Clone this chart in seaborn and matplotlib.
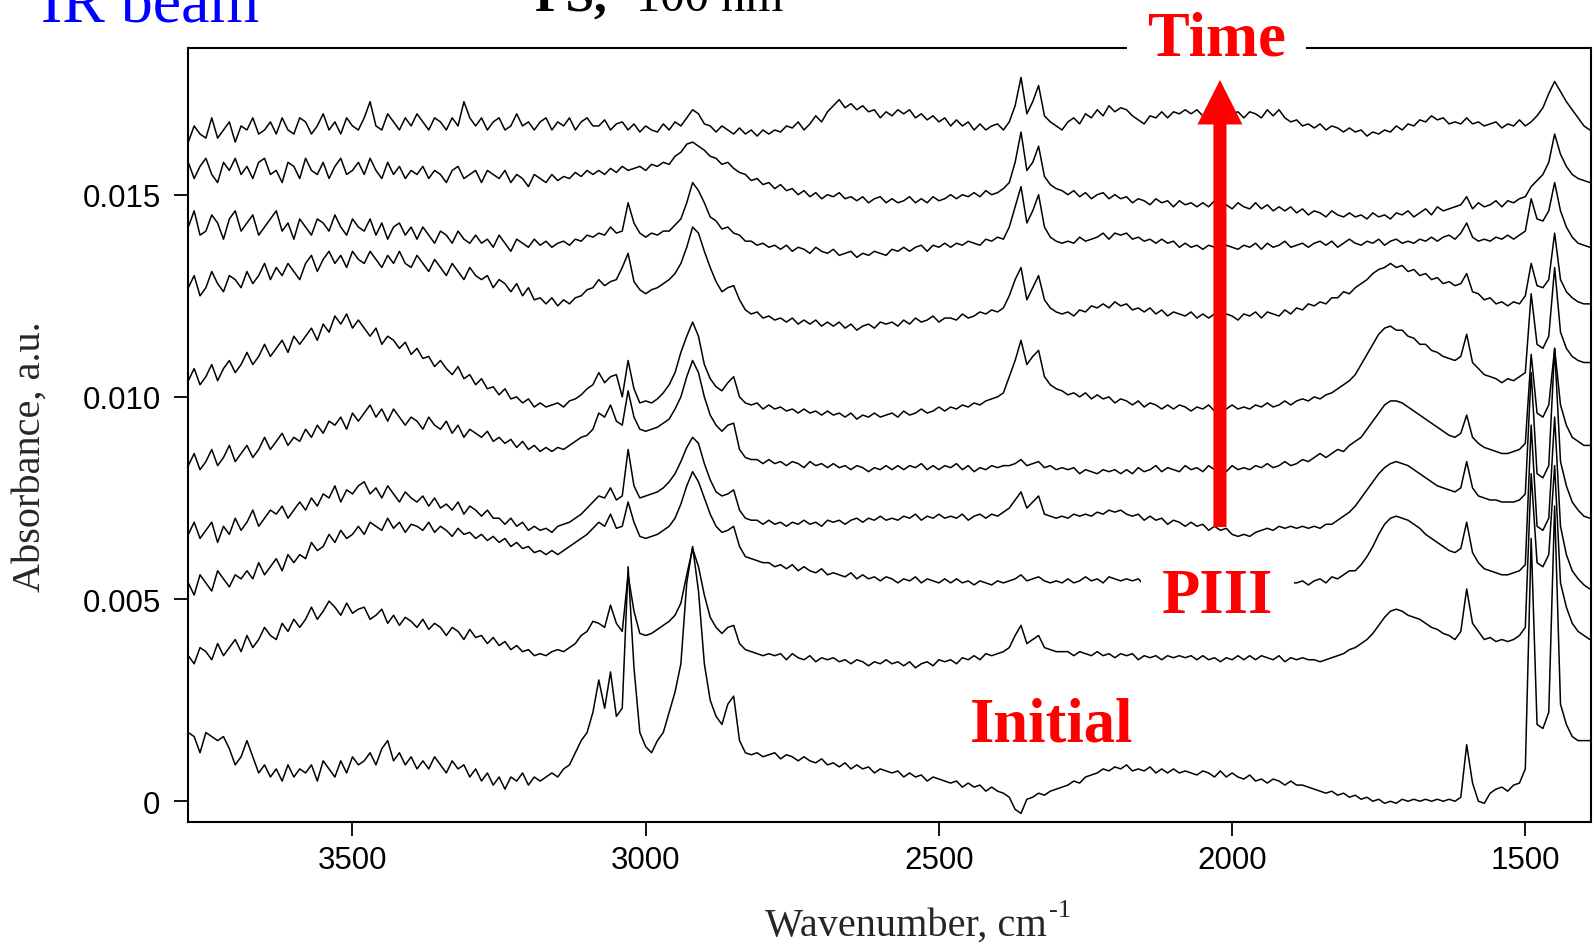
import numpy as np
import pandas as pd
import matplotlib
matplotlib.use("Agg")
import matplotlib.pyplot as plt
import seaborn as sns

sns.set_theme(style="ticks")
plt.rcParams["font.family"] = ["Liberation Sans", "DejaVu Sans"]

# ---------------- data (absorbance, units of 1e-3) ----------------
# wavenumber grid, cm-1, 3780 -> 1390 in 10 cm-1 steps (240 points)
wavenumber = np.arange(3780, 1389, -10)

abs_initial = [
    1.7, 1.6, 1.2, 1.7, 1.6, 1.5, 1.6, 1.3, 0.9, 1.1,
    1.5, 1.1, 0.7, 0.9, 0.6, 0.8, 0.5, 0.9, 0.6, 0.8,
    0.7, 0.9, 0.5, 1.0, 0.8, 0.6, 1.0, 0.7, 1.1, 0.9,
    1.0, 1.2, 0.9, 1.3, 1.5, 1.0, 1.2, 0.9, 1.1, 0.8,
    1.0, 0.8, 1.1, 0.9, 0.7, 1.0, 0.8, 0.9, 0.6, 0.8,
    0.5, 0.7, 0.4, 0.6, 0.3, 0.6, 0.5, 0.7, 0.4, 0.6,
    0.5, 0.6, 0.7, 0.6, 0.8, 0.9, 1.2, 1.5, 1.7, 2.2,
    3.0, 2.3, 3.2, 2.1, 2.3, 5.8, 3.3, 1.7, 1.35, 1.2,
    1.5, 1.7, 2.2, 2.7, 3.4, 5.4, 6.3, 5.2, 3.4, 2.5,
    2.1, 1.9, 2.4, 2.6, 1.5, 1.2, 1.15, 1.2, 1.1, 1.15,
    1.2, 1.05, 1.15, 1.1, 1.0, 1.1, 1.0, 0.95, 1.05, 0.9,
    0.95, 0.85, 0.95, 0.8, 0.9, 0.8, 0.85, 0.7, 0.8, 0.75,
    0.7, 0.75, 0.6, 0.7, 0.6, 0.65, 0.5, 0.6, 0.55, 0.5,
    0.45, 0.5, 0.35, 0.45, 0.35, 0.4, 0.25, 0.35, 0.25, 0.2,
    0.1, -0.2, -0.3, 0.05, 0.1, 0.2, 0.15, 0.25, 0.3, 0.35,
    0.4, 0.5, 0.45, 0.6, 0.65, 0.7, 0.8, 0.75, 0.85, 0.8,
    0.9, 0.75, 0.8, 0.75, 0.85, 0.7, 0.8, 0.7, 0.8, 0.7,
    0.75, 0.7, 0.65, 0.75, 0.7, 0.6, 0.75, 0.6, 0.7, 0.6,
    0.55, 0.65, 0.5, 0.55, 0.45, 0.55, 0.5, 0.4, 0.5, 0.4,
    0.4, 0.35, 0.3, 0.25, 0.2, 0.25, 0.15, 0.2, 0.1, 0.15,
    0.05, 0.1, 0.0, 0.05, -0.05, 0.0, -0.05, 0.05, 0.0, 0.05,
    0.0, 0.05, 0.0, 0.05, 0.0, 0.05, 0.0, 0.1, 1.4, 0.45,
    0.0, -0.05, 0.2, 0.3, 0.35, 0.25, 0.4, 0.45, 0.8, 6.5,
    1.9, 1.8, 2.2, 7.3, 2.4, 1.9, 1.6, 1.5, 1.5, 1.5,
]
abs_t1 = [
    3.6, 3.4, 3.8, 3.7, 3.5, 3.9, 3.6, 3.8, 4.0, 3.7,
    4.1, 3.8, 4.0, 4.3, 4.1, 4.0, 4.4, 4.2, 4.5, 4.3,
    4.5, 4.8, 4.5, 4.7, 4.95, 4.8, 4.6, 4.9, 4.65, 4.75,
    4.8, 4.5, 4.6, 4.75, 4.4, 4.6, 4.35, 4.55, 4.45, 4.3,
    4.5, 4.25, 4.4, 4.3, 4.1, 4.3, 4.2, 4.0, 4.25, 4.05,
    4.1, 3.9, 4.05, 3.85, 3.95, 3.75, 3.85, 3.7, 3.75, 3.6,
    3.65, 3.6, 3.7, 3.75, 3.7, 3.8, 3.9, 4.1, 4.2, 4.45,
    4.4, 4.3, 4.85, 4.4, 4.2, 5.6, 4.7, 4.15, 4.1, 4.15,
    4.25, 4.35, 4.45, 4.6, 4.9, 5.6, 6.25, 5.8, 5.1, 4.55,
    4.3, 4.15, 4.3, 4.35, 3.9, 3.75, 3.7, 3.65, 3.6, 3.65,
    3.6, 3.65, 3.5, 3.65, 3.55, 3.5, 3.6, 3.45, 3.55, 3.5,
    3.55, 3.45, 3.5, 3.4, 3.5, 3.45, 3.35, 3.45, 3.4, 3.5,
    3.4, 3.45, 3.35, 3.45, 3.3, 3.4, 3.45, 3.35, 3.5, 3.45,
    3.5, 3.4, 3.55, 3.5, 3.6, 3.5, 3.65, 3.6, 3.65, 3.7,
    3.8, 4.1, 4.35, 3.9, 4.0, 4.1, 3.8, 3.75, 3.7, 3.7,
    3.7, 3.6, 3.7, 3.65, 3.6, 3.7, 3.6, 3.65, 3.55, 3.65,
    3.6, 3.65, 3.5, 3.6, 3.55, 3.6, 3.5, 3.6, 3.55, 3.6,
    3.55, 3.6, 3.5, 3.6, 3.5, 3.55, 3.45, 3.55, 3.5, 3.6,
    3.5, 3.6, 3.5, 3.6, 3.55, 3.5, 3.6, 3.45, 3.55, 3.5,
    3.55, 3.5, 3.5, 3.45, 3.5, 3.55, 3.6, 3.65, 3.75, 3.8,
    3.9, 4.0, 4.15, 4.35, 4.55, 4.7, 4.75, 4.7, 4.6, 4.55,
    4.5, 4.4, 4.3, 4.25, 4.15, 4.1, 4.0, 4.2, 5.25, 4.4,
    4.2, 4.0, 4.05, 3.95, 4.0, 3.95, 4.0, 4.1, 4.3, 8.1,
    5.9, 5.8, 6.1, 8.3, 5.4, 4.8, 4.4, 4.2, 4.1, 4.0,
]
abs_t2 = [
    5.4, 5.1, 5.6, 5.4, 5.2, 5.7, 5.5, 5.3, 5.6, 5.5,
    5.7, 5.5, 5.9, 5.6, 5.8, 6.0, 5.7, 6.1, 5.9, 6.1,
    6.0, 6.4, 6.2, 6.3, 6.6, 6.4, 6.7, 6.5, 6.6, 6.8,
    6.6, 6.9, 6.8, 6.7, 7.0, 6.75, 6.9, 6.65, 6.85, 6.8,
    6.7, 6.9, 6.65, 6.8, 6.7, 6.55, 6.75, 6.6, 6.65, 6.5,
    6.6, 6.45, 6.55, 6.4, 6.5, 6.3, 6.4, 6.25, 6.3, 6.15,
    6.2, 6.1, 6.2, 6.1, 6.2, 6.3, 6.4, 6.5, 6.6, 6.75,
    6.9, 6.8, 7.1, 6.75, 6.8, 7.4, 6.9, 6.55, 6.5, 6.55,
    6.6, 6.7, 6.8, 7.0, 7.35, 7.8, 8.15, 7.9, 7.5, 7.1,
    6.8, 6.65, 6.7, 6.8, 6.3, 6.05, 6.0, 5.95, 5.9, 5.9,
    5.8, 5.85, 5.75, 5.85, 5.7, 5.8, 5.7, 5.65, 5.75, 5.6,
    5.65, 5.6, 5.55, 5.65, 5.5, 5.6, 5.5, 5.55, 5.45, 5.55,
    5.5, 5.4, 5.5, 5.45, 5.55, 5.4, 5.5, 5.45, 5.4, 5.5,
    5.4, 5.5, 5.4, 5.45, 5.35, 5.45, 5.4, 5.35, 5.45, 5.4,
    5.45, 5.5, 5.6, 5.45, 5.5, 5.55, 5.45, 5.4, 5.45, 5.4,
    5.5, 5.4, 5.45, 5.55, 5.45, 5.5, 5.4, 5.55, 5.5, 5.45,
    5.5, 5.45, 5.5, 5.35, 5.4, 5.35, 5.45, 5.3, 5.4, 5.35,
    5.4, 5.35, 5.4, 5.35, 5.4, 5.35, 5.4, 5.35, 5.4, 5.35,
    5.4, 5.35, 5.4, 5.35, 5.4, 5.35, 5.4, 5.35, 5.4, 5.4,
    5.45, 5.35, 5.45, 5.5, 5.4, 5.55, 5.5, 5.6, 5.7, 5.7,
    5.85, 6.05, 6.3, 6.6, 6.85, 7.0, 7.05, 7.0, 6.95, 6.85,
    6.75, 6.6, 6.5, 6.4, 6.3, 6.2, 6.15, 6.25, 6.9, 6.15,
    5.9, 5.75, 5.7, 5.65, 5.6, 5.6, 5.65, 5.7, 5.85, 9.3,
    6.8, 6.7, 7.0, 9.5, 6.8, 6.1, 5.7, 5.5, 5.35, 5.25,
]
abs_t3 = [
    6.6, 6.9, 6.5, 6.7, 6.9, 6.4, 6.8, 6.6, 7.0, 6.7,
    6.9, 7.2, 6.8, 7.0, 7.2, 7.1, 7.3, 7.0, 7.2, 7.4,
    7.2, 7.5, 7.3, 7.6, 7.5, 7.8, 7.4, 7.7, 7.6, 7.8,
    7.9, 7.6, 7.75, 7.5, 7.8, 7.6, 7.4, 7.65, 7.5, 7.4,
    7.55, 7.3, 7.5, 7.25, 7.35, 7.2, 7.4, 7.1, 7.3, 7.2,
    7.05, 7.2, 7.0, 7.0, 6.85, 7.0, 6.8, 6.9, 6.7, 6.8,
    6.7, 6.75, 6.65, 6.8, 6.85, 6.9, 7.0, 7.1, 7.25, 7.4,
    7.55, 7.5, 7.75, 7.45, 7.55, 8.7, 7.8, 7.5, 7.55, 7.6,
    7.65, 7.75, 7.9, 8.1, 8.4, 8.75, 9.0, 8.85, 8.35, 7.95,
    7.65, 7.55, 7.6, 7.7, 7.2, 7.0, 6.95, 6.95, 6.85, 6.95,
    6.85, 6.9, 6.8, 6.9, 6.85, 6.95, 6.85, 6.9, 6.8, 6.95,
    6.9, 6.95, 6.85, 6.95, 7.0, 6.9, 7.0, 6.95, 7.05, 6.95,
    7.0, 6.95, 7.05, 7.0, 7.1, 6.95, 7.05, 7.0, 7.1, 7.0,
    7.05, 7.0, 7.1, 6.95, 7.05, 7.1, 7.0, 7.1, 7.05, 7.15,
    7.25, 7.45, 7.65, 7.25, 7.4, 7.55, 7.1, 7.05, 7.0, 7.05,
    7.0, 7.1, 7.05, 7.1, 7.05, 7.15, 7.1, 7.2, 7.15, 7.2,
    7.1, 7.05, 7.1, 6.95, 7.05, 6.95, 7.0, 6.85, 6.95, 6.9,
    6.8, 6.9, 6.8, 6.85, 6.7, 6.8, 6.7, 6.75, 6.6, 6.55,
    6.6, 6.55, 6.65, 6.7, 6.75, 6.7, 6.8, 6.75, 6.8, 6.75,
    6.8, 6.75, 6.8, 6.75, 6.85, 6.85, 6.95, 7.05, 7.15, 7.3,
    7.5, 7.7, 7.9, 8.1, 8.25, 8.35, 8.4, 8.35, 8.3, 8.2,
    8.1, 8.0, 7.9, 7.8, 7.75, 7.7, 7.65, 7.75, 8.4, 7.75,
    7.55, 7.5, 7.45, 7.45, 7.4, 7.4, 7.4, 7.45, 7.6, 10.6,
    8.1, 8.0, 8.3, 11.2, 8.4, 7.8, 7.4, 7.2, 7.05, 7.0,
]
abs_t4 = [
    8.3, 8.6, 8.2, 8.4, 8.7, 8.3, 8.5, 8.8, 8.4, 8.6,
    8.8, 8.5, 8.7, 9.0, 8.7, 8.9, 9.1, 8.8, 9.0, 8.9,
    9.2, 9.0, 9.3, 9.1, 9.4, 9.3, 9.5, 9.2, 9.6, 9.4,
    9.6, 9.8, 9.5, 9.7, 9.4, 9.7, 9.5, 9.3, 9.5, 9.4,
    9.2, 9.5, 9.3, 9.2, 9.4, 9.1, 9.3, 9.0, 9.2, 9.1,
    9.0, 9.15, 8.9, 9.0, 8.85, 8.95, 8.75, 8.9, 8.7, 8.8,
    8.65, 8.75, 8.65, 8.75, 8.7, 8.8, 8.9, 9.0, 9.05, 9.2,
    9.6, 9.5, 9.8, 9.4, 9.3, 10.15, 9.5, 9.2, 9.15, 9.2,
    9.25, 9.35, 9.45, 9.7, 10.0, 10.5, 10.9, 10.6, 10.0, 9.55,
    9.3, 9.15, 9.3, 9.35, 8.7, 8.5, 8.45, 8.45, 8.35, 8.45,
    8.35, 8.4, 8.3, 8.4, 8.35, 8.25, 8.4, 8.3, 8.35, 8.25,
    8.35, 8.25, 8.3, 8.2, 8.3, 8.25, 8.15, 8.25, 8.2, 8.3,
    8.2, 8.3, 8.2, 8.3, 8.25, 8.35, 8.2, 8.3, 8.2, 8.3,
    8.25, 8.35, 8.2, 8.3, 8.15, 8.25, 8.2, 8.3, 8.25, 8.3,
    8.3, 8.35, 8.45, 8.3, 8.35, 8.4, 8.25, 8.3, 8.2, 8.25,
    8.2, 8.25, 8.1, 8.2, 8.15, 8.1, 8.2, 8.15, 8.2, 8.1,
    8.2, 8.1, 8.25, 8.15, 8.2, 8.3, 8.15, 8.25, 8.2, 8.15,
    8.3, 8.2, 8.25, 8.15, 8.3, 8.2, 8.25, 8.15, 8.3, 8.2,
    8.25, 8.2, 8.3, 8.25, 8.35, 8.25, 8.3, 8.4, 8.3, 8.35,
    8.45, 8.4, 8.5, 8.6, 8.5, 8.6, 8.7, 8.65, 8.8, 8.9,
    9.0, 9.2, 9.4, 9.6, 9.8, 9.9, 9.9, 9.85, 9.75, 9.65,
    9.55, 9.45, 9.35, 9.25, 9.15, 9.05, 9.0, 9.1, 9.55, 9.0,
    8.85, 8.75, 8.7, 8.65, 8.6, 8.6, 8.65, 8.7, 8.85, 11.05,
    9.6, 9.5, 9.8, 11.2, 9.8, 9.3, 9.0, 8.9, 8.8, 8.8,
]
abs_t5 = [
    10.4, 10.7, 10.3, 10.5, 10.8, 10.4, 10.7, 10.9, 10.6, 10.8,
    11.1, 10.8, 11.0, 11.3, 11.0, 11.2, 11.4, 11.1, 11.5, 11.3,
    11.5, 11.7, 11.4, 11.8, 11.6, 12.0, 11.8, 12.05, 11.7, 11.9,
    11.7, 11.5, 11.7, 11.3, 11.5, 11.4, 11.2, 11.35, 11.05, 11.2,
    10.95, 11.0, 10.75, 10.9, 10.7, 10.55, 10.75, 10.45, 10.55, 10.3,
    10.45, 10.2, 10.25, 10.05, 10.2, 9.95, 10.0, 9.85, 9.95, 9.75,
    9.85, 9.75, 9.8, 9.85, 9.75, 9.9, 9.95, 10.05, 10.2, 10.3,
    10.6, 10.35, 10.5, 10.55, 10.0, 10.9, 10.2, 9.85, 9.9, 9.85,
    9.95, 10.1, 10.3, 10.6, 11.1, 11.5, 11.85, 11.5, 10.8, 10.45,
    10.25, 10.15, 10.35, 10.5, 10.0, 9.85, 9.8, 9.85, 9.7, 9.8,
    9.7, 9.75, 9.65, 9.7, 9.6, 9.7, 9.6, 9.65, 9.55, 9.65,
    9.55, 9.6, 9.5, 9.6, 9.45, 9.55, 9.5, 9.6, 9.5, 9.55,
    9.6, 9.5, 9.65, 9.55, 9.6, 9.7, 9.6, 9.65, 9.75, 9.65,
    9.75, 9.7, 9.8, 9.75, 9.85, 9.8, 9.9, 9.95, 10.0, 10.1,
    10.5, 10.9, 11.4, 10.8, 11.0, 11.15, 10.5, 10.3, 10.2, 10.15,
    10.05, 10.1, 10.0, 10.1, 9.95, 10.05, 9.95, 10.0, 9.85, 9.95,
    9.9, 9.8, 9.9, 9.75, 9.85, 9.8, 9.7, 9.8, 9.7, 9.8,
    9.75, 9.65, 9.75, 9.7, 9.8, 9.65, 9.75, 9.7, 9.8, 9.7,
    9.75, 9.7, 9.8, 9.75, 9.85, 9.75, 9.8, 9.9, 9.8, 9.9,
    9.95, 9.9, 10.0, 9.95, 10.05, 10.1, 10.2, 10.3, 10.4, 10.55,
    10.8, 11.05, 11.3, 11.55, 11.7, 11.75, 11.65, 11.65, 11.5, 11.45,
    11.3, 11.3, 11.15, 11.1, 11.0, 10.95, 10.9, 11.0, 11.55, 10.85,
    10.7, 10.55, 10.5, 10.45, 10.35, 10.45, 10.4, 10.5, 10.6, 12.55,
    11.3, 11.2, 11.5, 13.2, 11.6, 11.2, 11.0, 10.9, 10.85, 10.85,
]
abs_t6 = [
    12.7, 13.0, 12.5, 12.7, 13.1, 12.8, 12.6, 13.0, 12.9, 12.7,
    13.1, 12.8, 13.0, 13.3, 12.9, 13.2, 13.0, 13.3, 13.1, 12.9,
    13.3, 13.5, 13.1, 13.4, 13.6, 13.3, 13.5, 13.2, 13.6, 13.4,
    13.3, 13.6, 13.4, 13.2, 13.5, 13.3, 13.6, 13.3, 13.2, 13.5,
    13.3, 13.1, 13.4, 13.2, 13.0, 13.3, 13.1, 12.9, 13.2, 13.0,
    12.9, 13.0, 12.7, 12.9, 12.8, 12.6, 12.8, 12.5, 12.7, 12.4,
    12.45, 12.3, 12.45, 12.25, 12.4, 12.3, 12.45, 12.5, 12.65, 12.7,
    12.9, 12.75, 12.85, 12.9, 13.2, 13.55, 12.85, 12.65, 12.55, 12.65,
    12.7, 12.8, 12.9, 13.05, 13.3, 13.7, 14.2, 14.05, 13.6, 13.2,
    12.85, 12.6, 12.7, 12.75, 12.4, 12.15, 12.05, 12.1, 11.95, 12.0,
    11.9, 11.95, 11.85, 11.95, 11.8, 11.9, 11.8, 11.9, 11.75, 11.85,
    11.75, 11.85, 11.7, 11.8, 11.65, 11.75, 11.8, 11.7, 11.85, 11.8,
    11.85, 11.75, 11.9, 11.8, 11.95, 11.85, 11.9, 12.0, 11.85, 11.95,
    11.95, 11.9, 12.05, 11.95, 12.0, 12.1, 12.05, 12.15, 12.1, 12.2,
    12.5, 12.9, 13.2, 12.4, 12.7, 13.0, 12.4, 12.2, 12.1, 12.05,
    12.1, 12.0, 12.15, 12.1, 12.25, 12.2, 12.3, 12.2, 12.35, 12.25,
    12.3, 12.15, 12.2, 12.1, 12.2, 12.05, 12.15, 12.0, 12.1, 12.05,
    12.0, 12.1, 11.95, 12.05, 11.95, 12.05, 11.9, 12.05, 12.0, 11.9,
    12.05, 12.0, 12.1, 11.95, 12.1, 12.05, 12.0, 12.15, 12.05, 12.2,
    12.15, 12.3, 12.25, 12.35, 12.3, 12.45, 12.45, 12.6, 12.55, 12.7,
    12.8, 12.9, 13.05, 13.15, 13.2, 13.3, 13.2, 13.25, 13.1, 13.15,
    13.0, 13.05, 12.9, 12.95, 12.8, 12.85, 12.75, 12.8, 13.05, 12.6,
    12.55, 12.4, 12.45, 12.3, 12.35, 12.25, 12.35, 12.3, 12.5, 13.3,
    12.75, 12.7, 12.9, 14.05, 12.9, 12.6, 12.45, 12.35, 12.3, 12.3,
]
abs_t7 = [
    14.2, 14.6, 14.0, 14.1, 14.5, 14.3, 13.9, 14.4, 14.6, 14.1,
    14.3, 14.5, 14.0, 14.2, 14.4, 14.6, 14.1, 14.3, 13.9, 14.4,
    14.2, 14.0, 14.4, 14.3, 14.1, 14.5, 14.2, 14.0, 14.4, 14.2,
    14.1, 14.4, 14.0, 14.3, 13.9, 14.2, 14.3, 14.0, 14.2, 13.9,
    14.2, 14.0, 13.8, 14.1, 14.0, 13.8, 14.1, 13.9, 13.8, 14.0,
    13.8, 13.9, 13.7, 14.0, 13.8, 13.6, 13.9, 13.8, 13.7, 13.9,
    13.75, 13.85, 13.7, 13.8, 13.85, 13.75, 13.9, 13.85, 14.0, 13.95,
    14.05, 14.0, 14.2, 14.05, 14.1, 14.8, 14.3, 14.05, 13.95, 14.05,
    14.0, 14.1, 14.1, 14.25, 14.4, 14.8, 15.3, 15.1, 14.8, 14.45,
    14.35, 14.15, 14.2, 14.05, 14.0, 13.85, 13.85, 13.75, 13.8, 13.7,
    13.75, 13.65, 13.75, 13.6, 13.7, 13.65, 13.55, 13.7, 13.6, 13.55,
    13.65, 13.5, 13.55, 13.6, 13.45, 13.55, 13.5, 13.6, 13.55, 13.5,
    13.65, 13.6, 13.7, 13.6, 13.7, 13.75, 13.6, 13.75, 13.7, 13.8,
    13.7, 13.8, 13.75, 13.85, 13.8, 13.75, 13.9, 13.85, 13.95, 13.9,
    14.2, 14.7, 15.2, 14.3, 14.6, 15.0, 14.2, 13.95, 13.85, 13.8,
    13.85, 13.8, 13.95, 13.85, 13.9, 13.95, 14.05, 13.9, 14.05, 14.0,
    14.05, 13.9, 13.95, 13.85, 13.9, 13.8, 13.9, 13.8, 13.85, 13.7,
    13.8, 13.7, 13.75, 13.65, 13.75, 13.7, 13.6, 13.75, 13.7, 13.65,
    13.75, 13.7, 13.8, 13.65, 13.8, 13.7, 13.75, 13.85, 13.7, 13.75,
    13.8, 13.7, 13.8, 13.85, 13.75, 13.85, 13.7, 13.8, 13.9, 13.8,
    13.75, 13.85, 13.8, 13.9, 13.75, 13.85, 13.9, 13.8, 13.85, 13.8,
    13.9, 13.85, 13.95, 13.85, 13.95, 14.0, 13.9, 14.05, 14.3, 13.95,
    13.85, 13.9, 13.85, 13.95, 13.9, 14.0, 13.9, 14.0, 14.1, 14.9,
    14.4, 14.35, 14.6, 15.3, 14.6, 14.2, 13.95, 13.8, 13.75, 13.7,
]
abs_t8 = [
    15.8, 15.4, 15.7, 15.9, 15.5, 15.3, 15.8, 15.6, 15.9, 15.5,
    15.7, 15.4, 15.8, 15.9, 15.5, 15.6, 15.3, 15.8, 15.7, 15.4,
    15.9, 15.6, 15.5, 15.8, 15.4, 15.7, 15.9, 15.5, 15.6, 15.8,
    15.5, 15.9, 15.6, 15.4, 15.8, 15.5, 15.7, 15.4, 15.6, 15.5,
    15.7, 15.4, 15.6, 15.5, 15.3, 15.6, 15.7, 15.4, 15.5, 15.6,
    15.3, 15.6, 15.5, 15.4, 15.6, 15.3, 15.5, 15.4, 15.2, 15.5,
    15.4, 15.3, 15.5, 15.35, 15.45, 15.4, 15.55, 15.45, 15.6, 15.5,
    15.6, 15.5, 15.65, 15.55, 15.7, 15.6, 15.65, 15.7, 15.6, 15.75,
    15.7, 15.8, 15.75, 15.95, 16.05, 16.25, 16.3, 16.2, 16.1, 15.95,
    15.9, 15.75, 15.8, 15.65, 15.55, 15.5, 15.35, 15.4, 15.25, 15.3,
    15.15, 15.25, 15.1, 15.15, 15.0, 15.1, 14.95, 15.05, 14.9, 15.0,
    14.95, 15.05, 14.9, 14.95, 14.85, 14.95, 14.8, 14.9, 14.95, 14.8,
    14.9, 14.8, 14.85, 14.95, 14.8, 14.9, 14.8, 14.95, 14.85, 14.9,
    15.0, 14.9, 15.0, 14.95, 15.05, 14.95, 15.1, 15.0, 15.05, 15.15,
    15.3, 15.8, 16.55, 15.6, 15.8, 16.2, 15.45, 15.25, 15.15, 15.1,
    15.0, 15.1, 14.95, 15.05, 14.9, 15.0, 15.05, 14.9, 15.0, 14.9,
    14.95, 14.8, 14.9, 14.85, 14.75, 14.9, 14.8, 14.85, 14.7, 14.85,
    14.75, 14.8, 14.7, 14.8, 14.7, 14.85, 14.7, 14.75, 14.65, 14.8,
    14.7, 14.65, 14.8, 14.65, 14.75, 14.6, 14.7, 14.6, 14.7, 14.55,
    14.65, 14.5, 14.6, 14.55, 14.45, 14.6, 14.5, 14.45, 14.55, 14.45,
    14.5, 14.4, 14.55, 14.45, 14.5, 14.4, 14.55, 14.5, 14.6, 14.45,
    14.55, 14.65, 14.5, 14.7, 14.6, 14.65, 14.7, 14.75, 14.95, 14.65,
    14.8, 14.7, 14.75, 14.85, 14.7, 14.85, 14.8, 14.9, 14.95, 15.2,
    15.35, 15.5, 15.8, 16.5, 16.0, 15.7, 15.5, 15.4, 15.35, 15.3,
]
abs_t9 = [
    16.3, 16.7, 16.5, 16.4, 16.9, 16.4, 16.6, 16.8, 16.3, 16.7,
    16.6, 16.9, 16.5, 16.6, 16.8, 16.5, 16.9, 16.6, 16.5, 16.9,
    16.8, 16.5, 16.7, 17.0, 16.6, 16.8, 16.5, 16.9, 16.7, 16.6,
    16.9, 17.3, 16.7, 16.6, 17.0, 16.8, 16.6, 16.9, 16.7, 17.0,
    16.8, 16.6, 16.9, 16.8, 16.6, 16.9, 16.7, 17.3, 16.9, 16.7,
    16.9, 16.6, 16.8, 16.9, 16.6, 16.7, 17.0, 16.7, 16.8, 16.6,
    16.8, 16.9, 16.6, 16.8, 16.7, 16.9, 16.6, 16.8, 16.9, 16.7,
    16.7, 16.85, 16.6, 16.75, 16.8, 16.6, 16.75, 16.55, 16.7, 16.6,
    16.55, 16.75, 16.6, 16.8, 16.7, 16.9, 17.1, 17.0, 16.75, 16.7,
    16.55, 16.7, 16.6, 16.5, 16.65, 16.5, 16.6, 16.45, 16.6, 16.5,
    16.6, 16.55, 16.7, 16.65, 16.8, 16.6, 16.75, 16.95, 16.8, 17.05,
    17.2, 17.35, 17.15, 17.25, 17.1, 17.2, 17.05, 17.1, 16.9, 17.05,
    16.95, 17.1, 17.0, 17.1, 16.9, 17.0, 16.85, 16.95, 16.8, 16.9,
    16.7, 16.85, 16.7, 16.8, 16.6, 16.75, 16.6, 16.7, 16.75, 16.6,
    16.8, 17.2, 17.9, 17.0, 17.3, 17.7, 16.95, 16.8, 16.7, 16.6,
    16.8, 16.9, 16.75, 17.0, 16.9, 17.1, 16.95, 17.2, 17.05, 17.15,
    17.1, 16.95, 16.85, 16.75, 16.95, 16.9, 17.05, 16.9, 17.05, 17.0,
    17.1, 17.0, 17.1, 16.95, 17.05, 17.0, 17.15, 16.95, 17.0, 17.05,
    16.9, 17.05, 17.0, 16.9, 17.1, 16.95, 17.1, 16.9, 16.8, 16.85,
    16.7, 16.75, 16.65, 16.75, 16.6, 16.7, 16.65, 16.55, 16.65, 16.55,
    16.6, 16.45, 16.55, 16.5, 16.6, 16.55, 16.7, 16.6, 16.75, 16.7,
    16.85, 16.8, 16.95, 16.85, 16.9, 16.75, 16.8, 16.75, 16.9, 16.75,
    16.8, 16.7, 16.75, 16.8, 16.65, 16.75, 16.7, 16.85, 16.7, 16.8,
    16.95, 17.15, 17.5, 17.8, 17.55, 17.3, 17.1, 16.9, 16.7, 16.6,
]

series = {"initial": abs_initial, "t1": abs_t1, "t2": abs_t2, "t3": abs_t3,
          "t4": abs_t4, "t5": abs_t5, "t6": abs_t6, "t7": abs_t7,
          "t8": abs_t8, "t9": abs_t9}
UNIT = 1e-3

x_ticks = [3500, 3000, 2500, 2000, 1500]
y_ticks = [0, 0.005, 0.010, 0.015]
y_ticklabels = ["0", "0.005", "0.010", "0.015"]

frames = []
for name, vals in series.items():
    frames.append(pd.DataFrame({"wn": wavenumber,
                                "A": np.asarray(vals) * UNIT,
                                "spectrum": name}))
df = pd.concat(frames, ignore_index=True)

# ---------------- figure ----------------
W, H = 1594, 945
fig = plt.figure(figsize=(W / 100, H / 100), dpi=100)
ax = fig.add_axes([188.3 / W, 1 - 823.3 / H, (1590.7 - 188.3) / W, (823.3 - 49.3) / H])

for name in series:
    sub = df[df["spectrum"] == name]
    sns.lineplot(data=sub, x="wn", y="A", ax=ax, color="black", lw=1.1,
                 sort=False, estimator=None, legend=False,
                 zorder=1 if name == "t2" else 4)

ax.set_xlim(3780, 1388.5)
ax.set_ylim(-0.00052, 0.01862)
ax.set_xticks(x_ticks)
ax.set_xticklabels([str(t) for t in x_ticks])
ax.set_yticks(y_ticks)
ax.set_yticklabels(y_ticklabels)
ax.set_xlabel("")
ax.set_ylabel("")
ax.tick_params(direction="out", length=10, width=1.3, labelsize=22.5,
               colors="black", pad=6)
ax.tick_params(axis="y", pad=10)
for s in ax.spines.values():
    s.set_linewidth(1.5)
    s.set_color("black")
    s.set_visible(True)

serif = ["Liberation Serif", "DejaVu Serif"]
fig.text(1047 / W, 1 - 936 / H, "Wavenumber, cm", family=serif,
         fontsize=29, ha="right", va="baseline")
fig.text(1049 / W, 1 - 917 / H, "-1", family=serif,
         fontsize=19, ha="left", va="baseline")
fig.text(30 / W, 1 - 457 / H, "Absorbance, a.u.", family=serif,
         fontsize=29, ha="center", va="center", rotation=90)

fig.text(41 / W, 1 - 22.5 / H, "IR beam", family=serif, fontsize=46,
         color="#0000ff", ha="left", va="baseline")
fig.text(534 / W, 1 - 11 / H, "PS,", family=serif, fontsize=37,
         fontweight="bold", color="black", ha="left", va="baseline")
fig.text(636 / W, 1 - 11 / H, "100 nm", family=serif, fontsize=35,
         color="black", ha="left", va="baseline")

# ---------------- annotations ----------------
def px_to_wn(xpix):
    return 3500 - (xpix - 352.7) / 0.5863

def px_to_abs(ypix):
    return (802.3 - ypix) / 40440

arrow_x = px_to_wn(1220)
ax.annotate("", xy=(arrow_x, px_to_abs(81)), xytext=(arrow_x, px_to_abs(528)),
            xycoords="data", textcoords="data",
            arrowprops=dict(arrowstyle="simple,head_length=1.6,head_width=1.62,tail_width=0.47",
                            mutation_scale=20, color="#ff0000", lw=0,
                            shrinkA=0, shrinkB=0),
            zorder=8, annotation_clip=False)

ax.text(px_to_wn(1216.5), px_to_abs(55.5), "Time", family=serif, fontsize=45,
        fontweight="bold", color="#ff0000", ha="center", va="baseline",
        zorder=7, clip_on=False,
        bbox=dict(facecolor="white", edgecolor="none", boxstyle="square,pad=0.33"))

ax.text(px_to_wn(1217.5), px_to_abs(612.7), "PIII", family=serif, fontsize=45,
        fontweight="bold", color="#ff0000", ha="center", va="baseline",
        zorder=3,
        bbox=dict(facecolor="white", edgecolor="none", boxstyle="square,pad=0.33"))

ax.text(px_to_wn(1052), px_to_abs(741.7), "Initial", family=serif, fontsize=45,
        fontweight="bold", color="#ff0000", ha="center", va="baseline", zorder=7)

fig.savefig("out.png", dpi=100, facecolor="white")
